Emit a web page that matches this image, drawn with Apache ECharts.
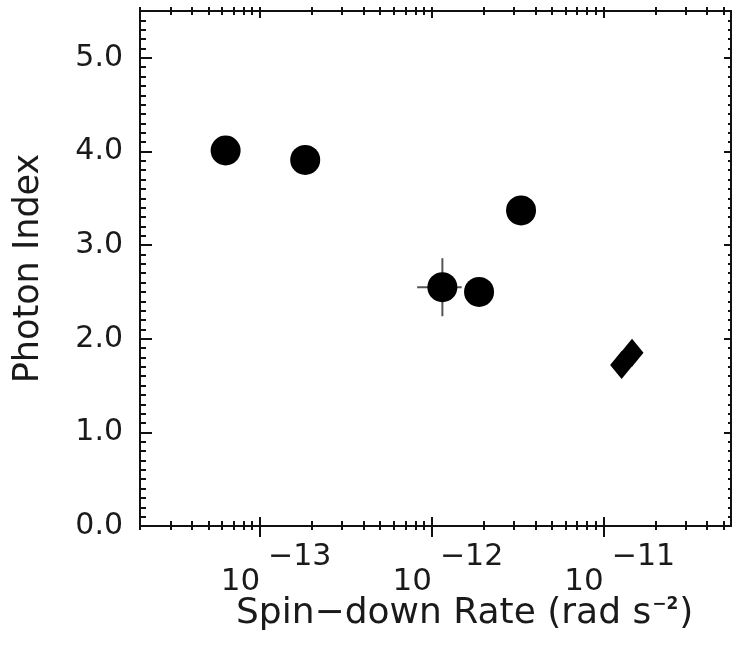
<!DOCTYPE html>
<html><head><meta charset="utf-8">
<script src="https://cdn.jsdelivr.net/npm/echarts@6/dist/echarts.min.js"></script>
<style>html,body{margin:0;padding:0;background:#fff}#c{width:733px;height:648px}</style>
</head><body><div id="c"></div>
<script>
// ---- data ----
const circleX = [6.3e-14, 1.83e-13, 1.15e-12, 1.88e-12, 3.3e-12];
const circleY = [4.01, 3.91, 2.55, 2.50, 3.37];
const diamondX = [1.27e-11, 1.46e-11];
const diamondY = [1.72, 1.85];
// error bar (one point)
const errX = [1.15e-12], errY = [2.55];
const errXLo = [8.2e-13], errXHi = [1.49e-12];
const errYLo = [2.24], errYHi = [2.86];
const xMajorExps = [-13, -12, -11];
const yMajor = [0, 1, 2, 3, 4, 5];
const xRange = [2e-14, 5.5e-11];
const yRange = [0, 5.5];

const L = Math.log10;
const xMin = L(xRange[0]), xMax = L(xRange[1]);
const xMinor = [];
for (let n = -14; n <= -11; n++) for (let k = 2; k <= 9; k++) {
  const v = L(k * Math.pow(10, n));
  if (v >= xMin - 1e-9 && v <= xMax + 1e-9) xMinor.push(v);
}
const yMinor = [];
for (let i = 1; i < 55; i++) if (i % 10) yMinor.push(i / 10);

const FONT = 'DejaVu Sans';
const INK = '#111';
const TXT = '#1a1a1a';

function xAx(pos, vals, inside, len, extra) {
  return Object.assign({
    type: 'value', position: pos, min: xMin, max: xMax,
    axisLine: { show: false, onZero: false },
    axisTick: { show: true, inside: inside, length: len, customValues: vals, lineStyle: { color: INK, width: 2 } },
    axisLabel: { show: false }, splitLine: { show: false }
  }, extra || {});
}
function yAx(pos, vals, inside, len, extra) {
  return Object.assign({
    type: 'value', position: pos, min: yRange[0], max: yRange[1],
    axisLine: { show: false, onZero: false },
    axisTick: { show: true, inside: inside, length: len, customValues: vals, lineStyle: { color: INK, width: 2 } },
    axisLabel: { show: false }, splitLine: { show: false }
  }, extra || {});
}

const xMaj = xMajorExps.slice();
const xAxes = [
  xAx('bottom', xMaj, true, 9, {
    axisLine: { show: true, onZero: false, lineStyle: { color: INK, width: 2 } },
    axisLabel: {
      show: true, customValues: xMaj, margin: 40, align: 'right', padding: [0, 0, 0, 0],
      fontFamily: FONT, fontSize: 31, color: TXT,
      formatter: () => '10'
    }
  }),
  xAx('bottom', xMaj, false, 11, {
    axisLabel: {
      show: true, customValues: xMaj, margin: 16, align: 'left', padding: [0, 0, 0, 8],
      fontFamily: FONT, fontSize: 30, color: TXT,
      formatter: v => '\u2212' + Math.abs(Math.round(v))
    }
  }),
  xAx('bottom', xMinor, true, 5),
  xAx('bottom', xMinor, false, 4),
  xAx('top', xMaj, true, 7, { axisLine: { show: true, onZero: false, lineStyle: { color: INK, width: 2 } } }),
  xAx('top', xMaj, false, 4),
  xAx('top', xMinor, true, 4),
  xAx('top', xMinor, false, 4)
];
const yAxes = [
  yAx('left', yMajor, true, 12, {
    axisLine: { show: true, onZero: false, lineStyle: { color: INK, width: 2 } },
    axisLabel: { show: true, customValues: yMajor, margin: 17, fontFamily: FONT, fontSize: 30, color: TXT,
      formatter: v => v.toFixed(1) },
    name: 'Photon Index', nameLocation: 'middle', nameGap: 94, nameRotate: 90,
    nameTextStyle: { fontFamily: FONT, fontSize: 35, color: TXT }
  }),
  yAx('left', yMinor, true, 6),
  yAx('right', yMajor, true, 7, { axisLine: { show: true, onZero: false, lineStyle: { color: INK, width: 2 } } }),
  yAx('right', yMinor, true, 3)
];

const chart = echarts.init(document.getElementById('c'), null, { renderer: 'canvas' });
chart.setOption({
  animation: false,
  backgroundColor: '#fff',
  grid: { left: 140, right: 2, top: 11, bottom: 122, containLabel: false },
  title: {
    text: 'Spin\u2212down Rate (rad s{s|\u22122})', left: 231, top: 591,
    textStyle: { fontFamily: FONT, fontSize: 36, fontWeight: 'normal', color: TXT,
      rich: { s: { fontFamily: FONT, fontSize: 17, fontWeight: 'bold', color: TXT, verticalAlign: 'top', padding: [0, 1, 18, 1] } } }
  },
  xAxis: xAxes,
  yAxis: yAxes,
  series: [
    {
      type: 'custom', xAxisIndex: 0, yAxisIndex: 0, z: 1,
      data: errX.map((x, i) => [L(x), errY[i], L(errXLo[i]), L(errXHi[i]), errYLo[i], errYHi[i]]),
      renderItem: function (params, api) {
        const a = api.coord([api.value(2), api.value(1)]);
        const b = api.coord([api.value(3), api.value(1)]);
        const c = api.coord([api.value(0), api.value(4)]);
        const d = api.coord([api.value(0), api.value(5)]);
        const st = { stroke: '#555', lineWidth: 2 };
        return { type: 'group', children: [
          { type: 'line', shape: { x1: a[0], y1: a[1], x2: b[0], y2: b[1] }, style: st },
          { type: 'line', shape: { x1: c[0], y1: c[1], x2: d[0], y2: d[1] }, style: st }
        ] };
      }
    },
    {
      type: 'scatter', xAxisIndex: 0, yAxisIndex: 0, z: 3,
      symbol: 'circle', symbolSize: 30, itemStyle: { color: '#000', opacity: 1 },
      data: circleX.map((x, i) => [L(x), circleY[i]])
    },
    {
      type: 'scatter', xAxisIndex: 0, yAxisIndex: 0, z: 3,
      symbol: 'diamond', symbolSize: [23, 28], itemStyle: { color: '#000', opacity: 1 },
      data: diamondX.map((x, i) => [L(x), diamondY[i]])
    }
  ]
});
</script></body></html>
